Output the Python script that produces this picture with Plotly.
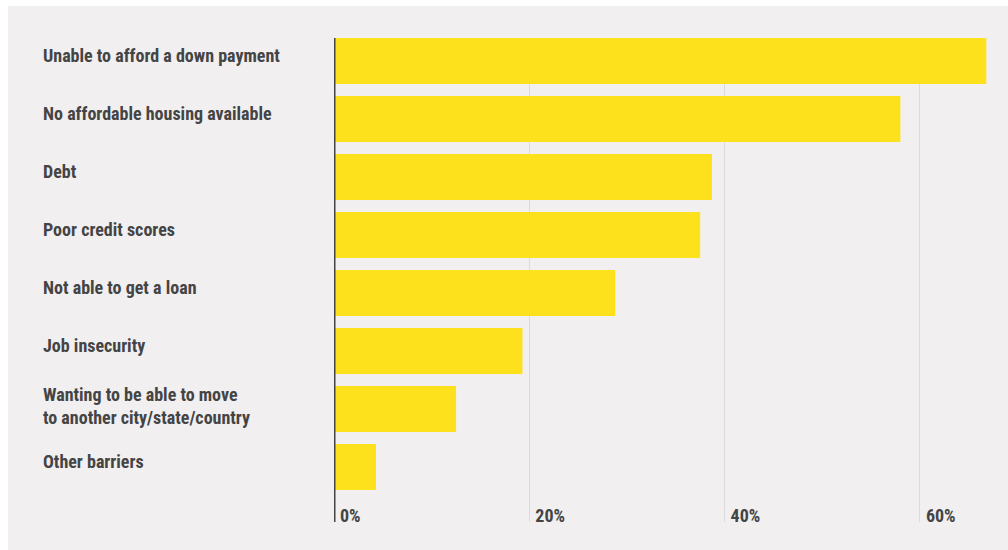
import plotly.graph_objects as go

categories = [
    "Unable to afford a down payment",
    "No affordable housing available",
    "Debt",
    "Poor credit scores",
    "Not able to get a loan",
    "Job insecurity",
    "Wanting to be able to move<br>to another city/state/country",
    "Other barriers",
]
values = [66.8, 58.0, 38.7, 37.5, 28.8, 19.3, 12.5, 4.3]
tick_vals = [0, 20, 40, 60]
tick_text = ["0%", "20%", "40%", "60%"]

FONT = "Roboto Condensed, DejaVu Sans Condensed, DejaVu Sans"
TEXT = "#444444"
PANEL = "#f1eff0"
YELLOW = "#fde11c"

W, H = 1008, 550
ML, MR, MT, MB = 334, 0, 38, 28
PW = W - ML - MR
PH = H - MT - MB

fig = go.Figure(go.Bar(
    x=values,
    y=list(range(len(categories))),
    orientation="h",
    marker=dict(color=YELLOW, line=dict(width=0)),
    hoverinfo="skip",
))

annotations = []
for i, c in enumerate(categories):
    nlines = c.count("<br>") + 1
    annotations.append(dict(
        xref="paper", yref="y", x=(41 - ML) / PW, y=i,
        xanchor="left", yanchor="middle", align="left",
        text=c, showarrow=False,
        yshift=6 if nlines == 1 else 3,
        font=dict(family=FONT, size=18, color=TEXT, weight="bold"),
    ))

fig.update_layout(
    width=W, height=H,
    margin=dict(l=ML, r=MR, t=MT, b=MB, pad=0),
    paper_bgcolor="white",
    plot_bgcolor="rgba(0,0,0,0)",
    showlegend=False,
    bargap=0.207,
    annotations=annotations,
    shapes=[
        dict(type="rect", xref="paper", yref="paper",
             x0=(8 - ML) / PW, x1=1.01,
             y0=-MB / PH - 0.01, y1=(PH + MT - 6) / PH,
             fillcolor=PANEL, line=dict(width=0), layer="below"),
        dict(type="line", xref="x", yref="paper", x0=0, x1=0, y0=0, y1=1,
             line=dict(color="#444444", width=3), layer="above"),
    ],
    xaxis=dict(
        range=[0, PW / 9.765],
        tickvals=tick_vals, ticktext=tick_text,
        ticklabelposition="inside right",
        ticklabelshift=6, ticklabelstandoff=-10,
        showgrid=True, gridcolor="#dcdbdb", gridwidth=1,
        zeroline=False, showline=False, ticks="",
        tickfont=dict(family=FONT, size=18, color=TEXT, weight="bold"),
    ),
    yaxis=dict(
        range=[7.948, -0.397],
        showticklabels=False, showgrid=False, zeroline=False,
        showline=False, ticks="",
    ),
)

fig.write_html("out.html")
